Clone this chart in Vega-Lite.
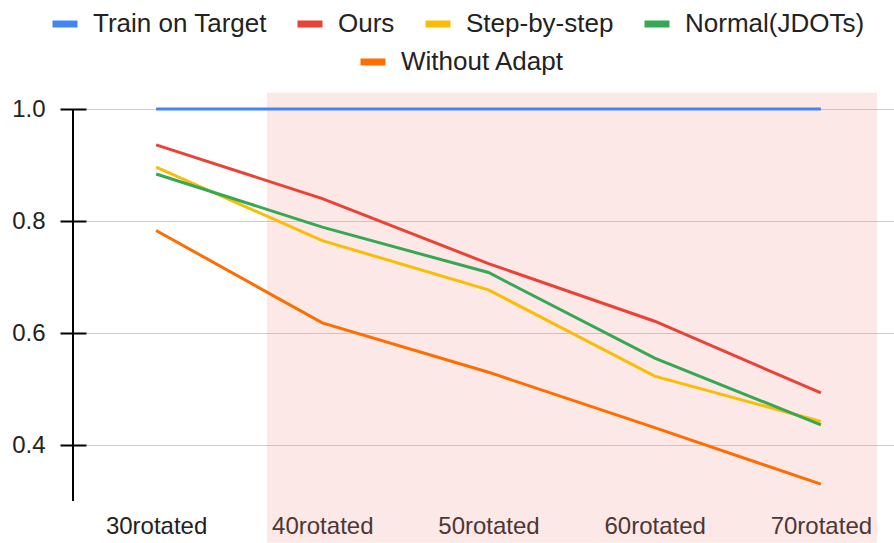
{
  "$schema": "https://vega.github.io/schema/vega-lite/v6.json",
  "width": 821,
  "height": 392,
  "autosize": {"type": "none"},
  "padding": {"left": 73, "top": 109, "right": 0, "bottom": 42},
  "background": "white",
  "datasets": {
    "scores": [
      {"rotation": 30, "series": "Train on Target", "accuracy": 1.0},
      {"rotation": 40, "series": "Train on Target", "accuracy": 1.0},
      {"rotation": 50, "series": "Train on Target", "accuracy": 1.0},
      {"rotation": 60, "series": "Train on Target", "accuracy": 1.0},
      {"rotation": 70, "series": "Train on Target", "accuracy": 1.0},
      {"rotation": 30, "series": "Ours", "accuracy": 0.936},
      {"rotation": 40, "series": "Ours", "accuracy": 0.840},
      {"rotation": 50, "series": "Ours", "accuracy": 0.724},
      {"rotation": 60, "series": "Ours", "accuracy": 0.621},
      {"rotation": 70, "series": "Ours", "accuracy": 0.493},
      {"rotation": 30, "series": "Step-by-step", "accuracy": 0.896},
      {"rotation": 40, "series": "Step-by-step", "accuracy": 0.765},
      {"rotation": 50, "series": "Step-by-step", "accuracy": 0.677},
      {"rotation": 60, "series": "Step-by-step", "accuracy": 0.523},
      {"rotation": 70, "series": "Step-by-step", "accuracy": 0.442},
      {"rotation": 30, "series": "Normal(JDOTs)", "accuracy": 0.884},
      {"rotation": 40, "series": "Normal(JDOTs)", "accuracy": 0.789},
      {"rotation": 50, "series": "Normal(JDOTs)", "accuracy": 0.708},
      {"rotation": 60, "series": "Normal(JDOTs)", "accuracy": 0.555},
      {"rotation": 70, "series": "Normal(JDOTs)", "accuracy": 0.436},
      {"rotation": 30, "series": "Without Adapt", "accuracy": 0.783},
      {"rotation": 40, "series": "Without Adapt", "accuracy": 0.618},
      {"rotation": 50, "series": "Without Adapt", "accuracy": 0.530},
      {"rotation": 60, "series": "Without Adapt", "accuracy": 0.431},
      {"rotation": 70, "series": "Without Adapt", "accuracy": 0.330}
    ],
    "band": [{"from": 36.67, "to": 73.37, "low": 0.2255, "high": 1.029}],
    "axisline": [{"at": 25}]
  },
  "layer": [
    {
      "data": {"name": "band"},
      "mark": {"type": "rect", "fill": "#F28B82", "opacity": 0.2},
      "encoding": {
        "x": {
          "field": "from", "type": "quantitative",
          "scale": {"domain": [25, 74.4], "nice": false, "zero": false},
          "axis": {"values": [30, 40, 50, 60, 70], "labelExpr": "datum.value + 'rotated'", "title": null}
        },
        "x2": {"field": "to"},
        "y": {
          "field": "low", "type": "quantitative",
          "scale": {"domain": [0.3, 1.0], "nice": false, "zero": false},
          "axis": {"values": [0.4, 0.6, 0.8, 1.0], "format": ".1f", "title": null}
        },
        "y2": {"field": "high"}
      }
    },
    {
      "data": {"name": "scores"},
      "transform": [{"filter": "datum.series !== 'Without Adapt'"}],
      "mark": {"type": "line", "strokeWidth": 3},
      "encoding": {
        "x": {
          "field": "rotation", "type": "quantitative",
          "scale": {"domain": [25, 74.4], "nice": false, "zero": false},
          "axis": {"values": [30, 40, 50, 60, 70], "labelExpr": "datum.value + 'rotated'", "title": null}
        },
        "y": {
          "field": "accuracy", "type": "quantitative",
          "scale": {"domain": [0.3, 1.0], "nice": false, "zero": false},
          "axis": {"values": [0.4, 0.6, 0.8, 1.0], "format": ".1f", "title": null}
        },
        "color": {
          "field": "series",
          "type": "nominal",
          "scale": {
            "domain": ["Train on Target", "Ours", "Step-by-step", "Normal(JDOTs)"],
            "range": ["#4285F4", "#EA4335", "#FBBC04", "#34A853"]
          },
          "legend": {
            "orient": "none",
            "legendX": -24,
            "legendY": -101,
            "direction": "horizontal",
            "columns": 4,
            "title": null
          }
        }
      }
    },
    {
      "data": {"name": "scores"},
      "transform": [{"filter": "datum.series === 'Without Adapt'"}],
      "mark": {"type": "line", "strokeWidth": 3},
      "encoding": {
        "x": {
          "field": "rotation", "type": "quantitative",
          "scale": {"domain": [25, 74.4], "nice": false, "zero": false},
          "axis": {"values": [30, 40, 50, 60, 70], "labelExpr": "datum.value + 'rotated'", "title": null}
        },
        "y": {
          "field": "accuracy", "type": "quantitative",
          "scale": {"domain": [0.3, 1.0], "nice": false, "zero": false},
          "axis": {"values": [0.4, 0.6, 0.8, 1.0], "format": ".1f", "title": null}
        },
        "color": {
          "field": "series",
          "type": "nominal",
          "scale": {"domain": ["Without Adapt"], "range": ["#FF6D01"]},
          "legend": {
            "orient": "none",
            "legendX": 284,
            "legendY": -63,
            "direction": "horizontal",
            "title": null
          }
        }
      }
    },
    {
      "data": {"name": "axisline"},
      "mark": {"type": "rule", "color": "#000000", "strokeWidth": 2},
      "encoding": {
        "x": {
          "field": "at", "type": "quantitative",
          "scale": {"domain": [25, 74.4], "nice": false, "zero": false},
          "axis": {"values": [30, 40, 50, 60, 70], "labelExpr": "datum.value + 'rotated'", "title": null}
        }
      }
    }
  ],
  "resolve": {"scale": {"color": "independent"}},
  "config": {
    "view": {"stroke": null},
    "font": "Liberation Sans",
    "axisX": {
      "domain": false,
      "ticks": false,
      "tickSize": 0,
      "grid": false,
      "labelPadding": 13,
      "labelFontSize": 24,
      "labelColor": "#222222",
      "labelFont": "Liberation Sans",
      "zindex": 1
    },
    "axisY": {
      "domain": false,
      "offset": -13,
      "tickSize": 26,
      "tickWidth": 2,
      "tickColor": "#000000",
      "grid": true,
      "gridColor": "#cccccc",
      "gridWidth": 1,
      "labelPadding": 15,
      "labelFontSize": 24,
      "labelColor": "#222222",
      "labelFont": "Liberation Sans"
    },
    "legend": {
      "padding": 0,
      "symbolType": "stroke",
      "symbolSize": 625,
      "symbolStrokeWidth": 7,
      "labelFontSize": 26,
      "labelColor": "#222222",
      "labelFont": "Liberation Sans",
      "labelOffset": 12,
      "columnPadding": 16,
      "labelLimit": 400
    }
  }
}
